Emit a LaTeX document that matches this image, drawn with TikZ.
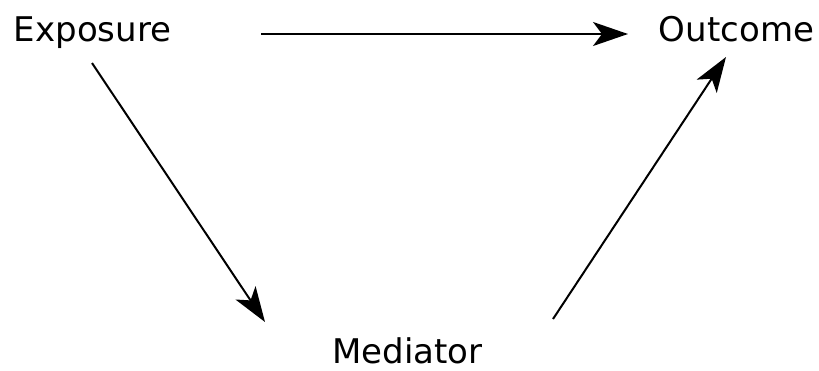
\documentclass[tikz,border=0pt]{standalone}
\usepackage{fontspec}
\setmainfont{DejaVu Sans}
\usetikzlibrary{arrows.meta}

\begin{document}
\begin{tikzpicture}[
  x=1bp, y=-1bp,
  var/.style={inner sep=0pt, anchor=base, font=\fontsize{34bp}{40bp}\selectfont},
  edge/.style={line width=2bp, -{Stealth[length=35bp, width=24bp, inset=9bp]}}
]
\useasboundingbox (0,0) rectangle (819,370);
\node[var] (expo) at (92.5,41) {Exposure};
\node[var] (outc) at (736.5,41) {Outcome};
\node[var] (medi) at (407.5,363) {Mediator};

\draw[edge] ([shift={(168.5bp,7bp)}]expo.base) -- ([shift={(-108.5bp,7bp)}]outc.base);
\draw[edge] ([shift={(-0.5bp,-22bp)}]expo.base) -- ([shift={(-142.5bp,41bp)}]medi.base);
\draw[edge] ([shift={(145.5bp,44bp)}]medi.base) -- ([shift={(-10.5bp,-16bp)}]outc.base);
\end{tikzpicture}
\end{document}
